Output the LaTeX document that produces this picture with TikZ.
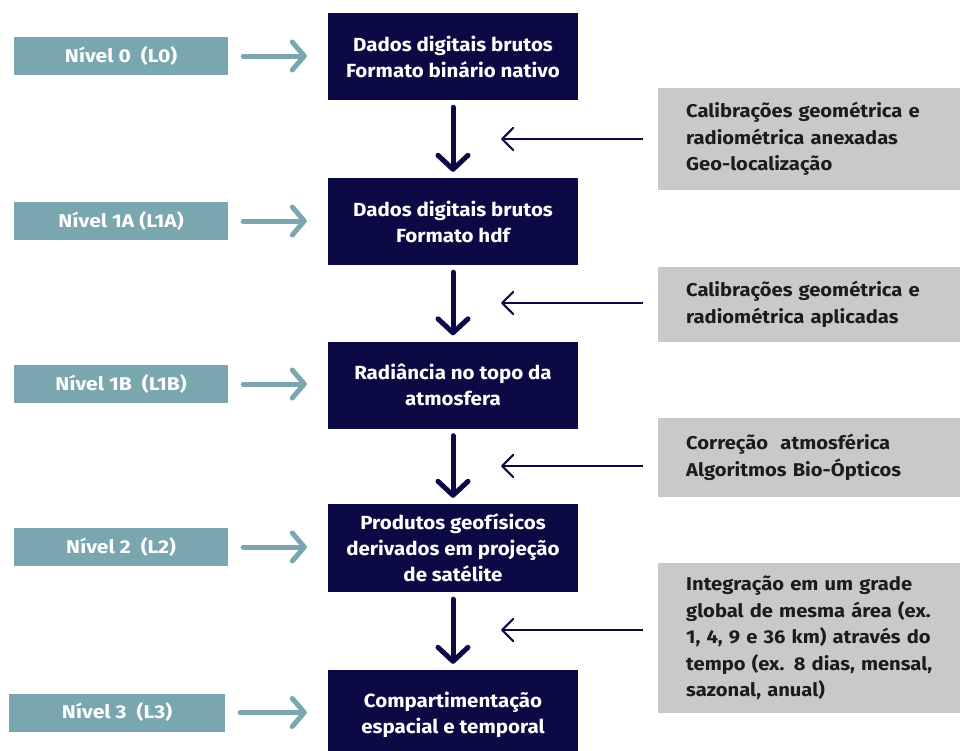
\documentclass[tikz,border=0pt]{standalone}
\usepackage{fontspec}
\setmainfont{Fira Sans}
\newfontfamily\boxfont{Fira Sans Bold}[FakeStretch=1.08]
\newfontfamily\grayfont{Fira Sans Bold}[FakeStretch=1.09]
\newfontfamily\labfont{Fira Sans Bold}[FakeStretch=1.14]
\usetikzlibrary{arrows.meta}
\definecolor{navy}{HTML}{0B0A45}
\definecolor{tealc}{HTML}{7AA6AF}
\definecolor{grayc}{HTML}{C9C9C9}
\definecolor{gtext}{HTML}{1C1C1C}
\tikzset{
  dbox/.style={fill=navy, text=white, minimum width=250pt, minimum height=87pt, inner sep=0pt, align=center,
    font=\boxfont\fontsize{19}{26}\selectfont},
  lbox/.style={fill=tealc, text=white, minimum width=214pt, minimum height=38pt, inner sep=0pt,
    font=\labfont\fontsize{18.5}{20}\selectfont},
  gbox/.style={fill=grayc, text=gtext, anchor=west, text width=274pt, inner xsep=28pt, inner ysep=0pt, align=left,
    font=\grayfont\fontsize{18.5}{26.5}\selectfont},
  tarrow/.style={draw=tealc, line width=5pt, line cap=round, -{Straight Barb[round, length=12pt, width=28pt]}},
  darrow/.style={draw=navy, line width=5pt, line cap=round, -{Straight Barb[round, length=14pt, width=30pt]}},
  garrow/.style={draw=navy, line width=2.2pt, -{Straight Barb[round, length=11pt, width=22pt]}}
}
\begin{document}
\begin{tikzpicture}[x=1pt,y=-1pt]
\useasboundingbox (0,0) rectangle (960,750);
% dark boxes
\node[dbox] (d0) at (453,56.5) {Dados digitais brutos\\Formato binário nativo};
\node[dbox] (d1) at (453,221.5) {Dados digitais brutos\\Formato hdf};
\node[dbox] (d2) at (453,385) {Radiância no topo da\\atmosfera};
\node[dbox, minimum height=88pt] (d3) at (453,548) {Produtos geofísicos\\derivados em projeção\\de satélite};
\node[dbox, minimum height=90pt] (d4) at (453,715) {Compartimentação\\espacial e temporal};
% teal labels
\node[lbox] (l0) at (121,56) {Nível 0~ (L0)};
\node[lbox] (l1) at (121,221) {Nível 1A (L1A)};
\node[lbox] (l2) at (121,384) {Nível 1B~ (L1B)};
\node[lbox] (l3) at (121,547) {Nível 2~ (L2)};
\node[lbox, minimum width=216pt] (l4) at (117,712.5) {Nível 3~ (L3)};
% gray boxes
\node[gbox, minimum height=102pt] (g0) at (658,139) {Calibrações geométrica e\\radiométrica anexadas\\Geo-localização};
\node[gbox, minimum height=75pt] (g1) at (658,304.5) {Calibrações geométrica e\\radiométrica aplicadas};
\node[gbox, minimum height=79pt] (g2) at (658,457.5) {Correção~ atmosférica\\Algoritmos Bio-Ópticos};
\node[gbox, minimum height=150pt] (g3) at (658,638) {Integração em um grade\\global de mesma área (ex.\\1, 4, 9 e 36 km) através do\\tempo (ex. 8 dias, mensal,\\sazonal, anual)};
% teal arrows
\foreach \l/\d in {l0/d0,l1/d1,l2/d2,l3/d3,l4/d4}
  \draw[tarrow, shorten <=15pt, shorten >=21pt] (\l.east) -- (\l.east -| \d.west);
% down arrows
\foreach \a/\b in {d0/d1,d1/d2,d2/d3,d3/d4}
  \draw[darrow, shorten <=7pt, shorten >=6pt] (\a) -- (\b);
% gray arrows
\coordinate (a0) at (501,139);
\coordinate (a1) at (501,303);
\coordinate (a2) at (501,466);
\coordinate (a3) at (501,630);
\foreach \g/\c in {g0/a0,g1/a1,g2/a2,g3/a3}
  \draw[garrow, shorten <=15pt] (\g.west |- \c) -- (\c);
\end{tikzpicture}
\end{document}
